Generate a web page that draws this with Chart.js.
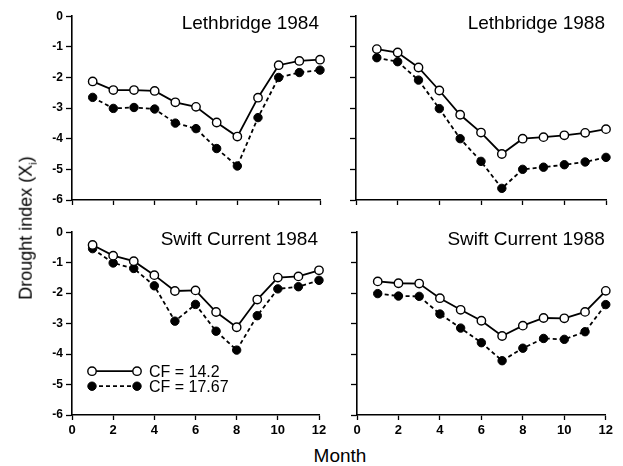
<!DOCTYPE html>
<html>
<head>
<meta charset="utf-8">
<script src="https://cdn.jsdelivr.net/npm/chart.js@4"></script>
<style>
    body { margin: 0; background: #fff; width: 623px; height: 466px; position: relative; overflow: hidden; font-family: "Liberation Sans", Arial, sans-serif; }
    canvas { position: absolute; }
    #ylabel { position: absolute; left: 27px; top: 228px; transform: translate(-50%, -50%) rotate(-90deg); font-size: 18px; white-space: nowrap; color: #000; }
    #ylabel sub { font-size: 11px; }
    #xlabel { position: absolute; left: 340px; top: 456px; transform: translate(-50%, -50%); font-size: 19px; color: #000; }
</style>
</head>
<body>
<canvas id="c-leth84" width="300" height="220" style="left:30px; top:6px;"></canvas>
<canvas id="c-leth88" width="276" height="220" style="left:340px; top:6px;"></canvas>
<canvas id="c-swift84" width="300" height="220" style="left:30px; top:222px;"></canvas>
<canvas id="c-swift88" width="276" height="220" style="left:340px; top:222px;"></canvas>
<div id="ylabel">Drought index (X<sub>i</sub>)</div>
<div id="xlabel">Month</div>
<script>
const months = [1, 2, 3, 4, 5, 6, 7, 8, 9, 10, 11, 12];
const yTicks = [0, -1, -2, -3, -4, -5, -6];
const xTicks = [0, 2, 4, 6, 8, 10, 12];
const seriesNames = ['CF = 14.2', 'CF = 17.67'];

// values
const leth84Cf142 = [-2.13, -2.41, -2.41, -2.44, -2.81, -2.96, -3.47, -3.93, -2.66, -1.60, -1.46, -1.42];
const leth84Cf1767 = [-2.65, -3.01, -2.98, -3.03, -3.49, -3.67, -4.32, -4.89, -3.31, -2.00, -1.84, -1.76];
const leth88Cf142 = [-1.08, -1.19, -1.68, -2.43, -3.22, -3.80, -4.50, -4.00, -3.95, -3.89, -3.81, -3.69];
const leth88Cf1767 = [-1.36, -1.49, -2.09, -3.02, -4.00, -4.74, -5.62, -5.00, -4.93, -4.85, -4.76, -4.61];
const swift84Cf142 = [-0.42, -0.77, -0.95, -1.41, -1.93, -1.91, -2.62, -3.12, -2.21, -1.49, -1.45, -1.25];
const swift84Cf1767 = [-0.54, -1.01, -1.19, -1.76, -2.92, -2.37, -3.25, -3.87, -2.74, -1.86, -1.79, -1.58];
const swift88Cf142 = [-1.62, -1.68, -1.69, -2.17, -2.55, -2.91, -3.41, -3.07, -2.82, -2.83, -2.62, -1.93];
const swift88Cf1767 = [-2.02, -2.10, -2.11, -2.69, -3.15, -3.63, -4.22, -3.81, -3.49, -3.52, -3.27, -2.38];

const FONT = '"Liberation Sans", Arial, sans-serif';

// panel title in the upper right corner, legend optional
const panelDecor = {
    id: 'panelDecor',
    afterDraw(chart, args, opts) {
        const ctx = chart.ctx;
        const area = chart.chartArea;
        ctx.save();
        ctx.fillStyle = '#000';
        ctx.font = `19px ${FONT}`;
        ctx.textAlign = 'right';
        ctx.textBaseline = 'alphabetic';
        ctx.fillText(opts.title, area.right - 1, area.top + 13);

        if (opts.legend) {
            const x0 = area.left + 20;
            const x1 = area.left + 65;
            chart.data.datasets.forEach((ds, i) => {
                const y = area.top + 139 + i * 15;
                ctx.strokeStyle = '#000';
                ctx.lineWidth = ds.borderWidth;
                ctx.setLineDash(ds.borderDash || []);
                ctx.beginPath();
                ctx.moveTo(x0, y);
                ctx.lineTo(x1, y);
                ctx.stroke();
                ctx.setLineDash([]);
                [x0, x1].forEach(x => {
                    ctx.beginPath();
                    ctx.arc(x, y, ds.pointRadius, 0, Math.PI * 2);
                    ctx.fillStyle = ds.pointBackgroundColor;
                    ctx.fill();
                    ctx.lineWidth = ds.pointBorderWidth;
                    ctx.stroke();
                });
                ctx.fillStyle = '#000';
                ctx.font = `16px ${FONT}`;
                ctx.textAlign = 'left';
                ctx.textBaseline = 'middle';
                ctx.fillText(ds.label, x1 + 12, y + 1);
            });
        }
        ctx.restore();
    }
};

function makePanel(id, openVals, filledVals, title, opt) {
    const ctx = document.getElementById(id).getContext('2d');
    return new Chart(ctx, {
        type: 'line',
        data: {
            datasets: [{
                label: seriesNames[0],
                data: months.map((m, i) => ({ x: m, y: openVals[i] })),
                borderColor: '#000',
                borderWidth: 1.8,
                pointRadius: 4.2,
                pointBackgroundColor: '#fff',
                pointBorderColor: '#000',
                pointBorderWidth: 1.4,
                clip: false
            }, {
                label: seriesNames[1],
                data: months.map((m, i) => ({ x: m, y: filledVals[i] })),
                borderColor: '#000',
                borderWidth: 1.8,
                borderDash: [4, 3],
                pointRadius: 4.2,
                pointBackgroundColor: '#000',
                pointBorderColor: '#000',
                pointBorderWidth: 1,
                clip: false
            }]
        },
        options: {
            responsive: false,
            animation: false,
            layout: { padding: { left: 0, top: 10, right: opt.padRight, bottom: 0 } },
            scales: {
                x: {
                    type: 'linear',
                    min: 0,
                    max: 12,
                    afterBuildTicks: axis => { axis.ticks = xTicks.map(v => ({ value: v })); },
                    afterFit: axis => { axis.height = opt.xHeight; },
                    border: { display: true, color: '#000', width: 1.6 },
                    grid: { drawOnChartArea: false, color: '#000', tickLength: 5, tickWidth: 1.3 },
                    ticks: {
                        display: opt.xLabels,
                        color: '#000',
                        padding: 3,
                        maxRotation: 0,
                        font: { family: FONT, size: 13, weight: 'bold' }
                    }
                },
                y: {
                    min: -6,
                    max: 0,
                    afterBuildTicks: axis => { axis.ticks = yTicks.map(v => ({ value: v })); },
                    afterFit: axis => { axis.width = opt.yWidth; },
                    border: { display: true, color: '#000', width: 1.6 },
                    grid: { drawOnChartArea: false, color: '#000', tickLength: 6, tickWidth: 1.3 },
                    ticks: {
                        display: opt.yLabels,
                        color: '#000',
                        padding: 3,
                        font: { family: FONT, size: 12, weight: 'bold' }
                    }
                }
            },
            plugins: {
                legend: { display: false },
                tooltip: { enabled: false },
                panelDecor: { title: title, legend: opt.legend }
            }
        },
        plugins: [panelDecor]
    });
}

makePanel('c-leth84', leth84Cf142, leth84Cf1767, 'Lethbridge 1984',
    { yWidth: 42, xHeight: 26, padRight: 10, xLabels: false, yLabels: true, legend: false });
makePanel('c-leth88', leth88Cf142, leth88Cf1767, 'Lethbridge 1988',
    { yWidth: 16, xHeight: 26, padRight: 10, xLabels: false, yLabels: false, legend: false });
makePanel('c-swift84', swift84Cf142, swift84Cf1767, 'Swift Current 1984',
    { yWidth: 42, xHeight: 27, padRight: 11, xLabels: true, yLabels: true, legend: true });
makePanel('c-swift88', swift88Cf142, swift88Cf1767, 'Swift Current 1988',
    { yWidth: 17, xHeight: 27, padRight: 10, xLabels: true, yLabels: false, legend: false });
</script>
</body>
</html>
